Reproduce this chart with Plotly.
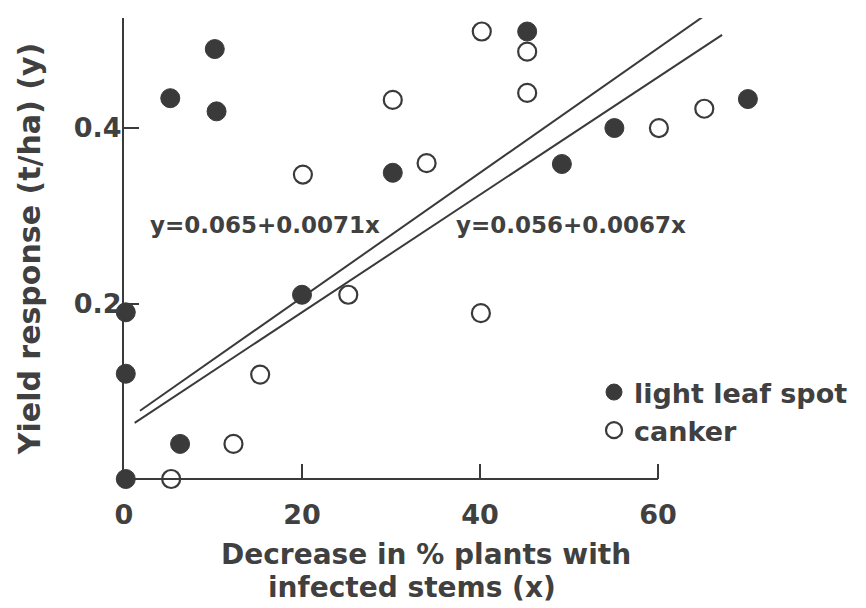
import plotly.graph_objects as go

# ---- data ----
leaf_x = [0.2, 0.2, 0.2, 6.3, 5.2, 10.2, 10.4, 20.0, 30.2, 45.3, 49.2, 55.1, 70.1]
leaf_y = [0.19, 0.12, 0.0, 0.04, 0.434, 0.490, 0.419, 0.21, 0.349, 0.51, 0.359, 0.40, 0.433]

canker_x = [5.3, 12.3, 15.3, 20.1, 25.2, 30.2, 34.0, 40.1, 40.2, 45.3, 45.3, 60.1, 65.2]
canker_y = [0.0, 0.04, 0.119, 0.347, 0.21, 0.432, 0.36, 0.189, 0.51, 0.487, 0.44, 0.40, 0.422]

# regression lines: intercept, slope, x extent of drawn segment
fit_leaf = dict(a=0.065, b=0.0071, x=[1.8, 66.0], label="y=0.065+0.0071x")
fit_canker = dict(a=0.056, b=0.0067, x=[1.2, 67.2], label="y=0.056+0.0067x")

x_tickvals = [0, 20, 40, 60]
y_tickvals = [0.2, 0.4]
y_ticktext = ["0.2", "0.4"]

INK = "#3a3a3a"
TXT = "#404040"
FONT = "DejaVu Sans"

fig = go.Figure()

for fit in (fit_leaf, fit_canker):
    xs = fit["x"]
    ys = [fit["a"] + fit["b"] * v for v in xs]
    fig.add_trace(go.Scatter(x=xs, y=ys, mode="lines", showlegend=False,
                             line=dict(color=INK, width=2), hoverinfo="skip"))

fig.add_trace(go.Scatter(
    x=leaf_x, y=leaf_y, mode="markers", name="light leaf spot", cliponaxis=False,
    marker=dict(size=19, color=INK, line=dict(color=INK, width=1))))
fig.add_trace(go.Scatter(
    x=canker_x, y=canker_y, mode="markers", name="canker", cliponaxis=False,
    marker=dict(size=18, color="white", line=dict(color=INK, width=2.2))))

# equation labels
fig.add_annotation(x=15.8, y=0.289, text=fit_leaf["label"], showarrow=False,
                   font=dict(family=FONT, size=23, color=TXT, weight="bold"))
fig.add_annotation(x=50.2, y=0.289, text=fit_canker["label"], showarrow=False,
                   font=dict(family=FONT, size=23, color=TXT, weight="bold"))

# x-axis title (two lines as in the original)
PW = 866 - 124
fig.add_annotation(xref="paper", yref="paper", x=(426 - 124) / PW, y=-(554 - 479) / 461,
                   text="Decrease in % plants with", showarrow=False, xanchor="center",
                   yanchor="middle",
                   font=dict(family=FONT, size=28, color=TXT, weight="bold"))
fig.add_annotation(xref="paper", yref="paper", x=(412 - 124) / PW, y=-(587 - 479) / 461,
                   text="infected stems (x)", showarrow=False, xanchor="center",
                   yanchor="middle",
                   font=dict(family=FONT, size=28, color=TXT, weight="bold"))

# x axis line only from 0 to 60
fig.add_shape(type="line", xref="x", yref="paper", x0=0, x1=60, y0=0, y1=0,
              line=dict(color=INK, width=2))

fig.update_xaxes(range=[0, 83.37], showline=False, showgrid=False, zeroline=False,
                 tickvals=x_tickvals, ticks="inside", ticklen=15, tickwidth=2,
                 tickcolor=INK, ticklabelstandoff=17,
                 tickfont=dict(family=FONT, size=27, color=TXT, weight="bold"))
fig.update_yaxes(range=[0, 0.5254], showline=True, linecolor=INK, linewidth=2,
                 showgrid=False, zeroline=False,
                 tickvals=y_tickvals, ticktext=y_ticktext, ticks="inside", ticklen=15,
                 tickwidth=2, tickcolor=INK, ticklabelstandoff=-5,
                 tickfont=dict(family=FONT, size=27, color=TXT, weight="bold"),
                 title=dict(text="Yield response (t/ha) (y)", standoff=24,
                            font=dict(family=FONT, size=30, color=TXT, weight="bold")))

fig.update_layout(
    width=866, height=608,
    margin=dict(l=124, r=0, t=18, b=129, autoexpand=False),
    plot_bgcolor="white", paper_bgcolor="white",
    font=dict(family=FONT, color=TXT),
    showlegend=True,
    legend=dict(x=(594 - 124) / PW, y=(479 - 368) / 461, xanchor="left", yanchor="top",
                bgcolor="rgba(0,0,0,0)", borderwidth=0,
                font=dict(family=FONT, size=27, color=TXT, weight="bold")),
)

fig.write_html("out.html")
